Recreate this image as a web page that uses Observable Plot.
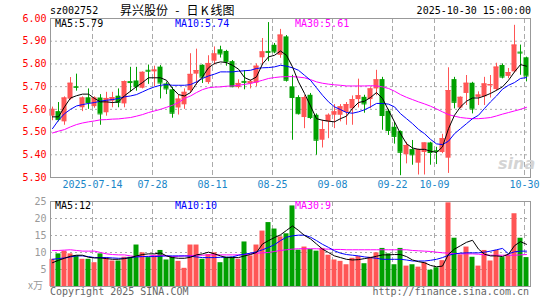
<!DOCTYPE html>
<html><head><meta charset="utf-8">
<script src="https://cdn.jsdelivr.net/npm/d3@7"></script>
<script src="https://cdn.jsdelivr.net/npm/@observablehq/plot@0.6"></script>
<style>
body{margin:0;background:#fff;}
#wrap{position:relative;width:545px;height:300px;overflow:hidden;background:#fff;}
.t{position:absolute;white-space:pre;line-height:10px;font-size:10px;font-family:"DejaVu Sans Mono",monospace;}
#main,#vol{position:absolute;left:0;}
#main{top:0}
#vol{top:190px}
.k{display:inline-block;width:12px;text-align:center;}
</style></head><body>
<div id="wrap">
<div id="main"></div><div id="vol"></div>
<div class="t" style="left:50px;top:6px;color:#000">sz002752</div>
<div class="t" style="left:120px;top:4px;font-family:'Noto Sans CJK SC',sans-serif;font-size:12px;line-height:12px;word-spacing:4.5px;color:#000">昇兴股份 - 日<span class="k">K</span>线图</div>
<div class="t" style="right:14px;top:6px;color:#000">2025-10-30 15:00:00</div>
<div class="t" id="lg1" style="left:55px;top:19px;color:#000"></div>
<div class="t" id="lg2" style="left:175px;top:19px;color:#0000ff"></div>
<div class="t" id="lg3" style="left:295px;top:19px;color:#ff00ff"></div>
<div class="t" id="vl1" style="left:55px;top:201px;color:#000"></div>
<div class="t" id="vl2" style="left:175px;top:201px;color:#0000ff"></div>
<div class="t" id="vl3" style="left:295px;top:201px;color:#ff00ff"></div>
<div class="t" style="left:28px;top:280px;color:#999;font-family:'Noto Sans CJK SC',sans-serif;">x万</div>
<div class="t" style="left:50px;top:287px;color:#666">Copyright 2025 SINA.COM</div>
<div class="t" style="right:16px;top:287px;color:#666">http://finance.sina.com.cn</div>
<div class="t" style="left:498px;top:156px;font-size:16px;line-height:16px;font-family:'DejaVu Sans',sans-serif;font-weight:bold;font-style:italic;color:#d4d4d4">sina</div>
</div>
<script>
const dates = ["07-03","07-04","07-07","07-08","07-09","07-10","07-11","07-14","07-15","07-16","07-17","07-18","07-21","07-22","07-23","07-24","07-25","07-28","07-29","07-30","07-31",
"08-01","08-04","08-05","08-06","08-07","08-08","08-11","08-12","08-13","08-14","08-15","08-18","08-19","08-20","08-21","08-22","08-25","08-26","08-27","08-28","08-29",
"09-01","09-02","09-03","09-04","09-05","09-08","09-09","09-10","09-11","09-12","09-15","09-16","09-17","09-18","09-19","09-22","09-23","09-24","09-25","09-26","09-29","09-30",
"10-09","10-10","10-13","10-14","10-15","10-16","10-17","10-20","10-21","10-22","10-23","10-24","10-27","10-28","10-29","10-30"];
const open = [5.57,5.59,5.545,5.645,5.70,5.607,5.651,5.612,5.65,5.585,5.636,5.658,5.624,5.722,5.725,5.693,5.772,5.765,5.786,5.712,5.686,
5.606,5.62,5.682,5.755,5.794,5.718,5.812,5.862,5.855,5.81,5.696,5.723,5.712,5.715,5.827,5.855,5.882,5.838,5.919,5.699,5.652,
5.564,5.662,5.574,5.464,5.545,5.574,5.574,5.586,5.602,5.643,5.653,5.643,5.69,5.731,5.592,5.521,5.502,5.40,5.423,5.363,5.41,5.452,
5.418,5.41,5.385,5.731,5.606,5.67,5.715,5.653,5.655,5.703,5.687,5.793,5.745,5.765,5.852,5.827];
const high = [5.61,5.63,5.655,5.74,5.755,5.655,5.69,5.655,5.665,5.675,5.675,5.69,5.725,5.785,5.785,5.765,5.795,5.79,5.793,5.72,5.697,
5.663,5.69,5.845,5.865,5.796,5.836,5.875,5.878,5.86,5.815,5.73,5.771,5.73,5.80,5.912,5.982,5.89,5.952,5.925,5.75,5.66,
5.66,5.67,5.58,5.552,5.58,5.621,5.621,5.63,5.659,5.733,5.662,5.695,5.772,5.741,5.60,5.543,5.505,5.455,5.463,5.425,5.452,5.455,
5.433,5.49,5.783,5.741,5.655,5.749,5.719,5.677,5.741,5.749,5.803,5.80,5.78,5.97,5.883,5.83];
const low = [5.55,5.545,5.53,5.64,5.68,5.59,5.60,5.605,5.53,5.57,5.607,5.607,5.607,5.675,5.68,5.69,5.71,5.70,5.646,5.665,5.561,
5.575,5.60,5.67,5.706,5.714,5.71,5.795,5.826,5.79,5.695,5.69,5.686,5.69,5.70,5.794,5.81,5.845,5.825,5.72,5.464,5.575,
5.515,5.555,5.398,5.43,5.471,5.515,5.545,5.53,5.53,5.606,5.583,5.603,5.66,5.508,5.485,5.447,5.308,5.36,5.354,5.311,5.311,5.354,
5.357,5.405,5.318,5.602,5.602,5.617,5.58,5.617,5.617,5.65,5.68,5.734,5.735,5.76,5.75,5.721];
const close = [5.60,5.555,5.65,5.715,5.697,5.65,5.63,5.65,5.58,5.648,5.652,5.631,5.722,5.718,5.70,5.763,5.768,5.773,5.716,5.69,5.583,
5.645,5.675,5.754,5.771,5.742,5.802,5.844,5.844,5.81,5.70,5.714,5.719,5.722,5.79,5.853,5.851,5.853,5.927,5.728,5.652,5.581,
5.652,5.564,5.464,5.511,5.574,5.589,5.611,5.621,5.643,5.66,5.624,5.69,5.73,5.573,5.507,5.481,5.411,5.441,5.40,5.423,5.452,5.41,
5.415,5.471,5.683,5.631,5.653,5.715,5.602,5.663,5.712,5.709,5.786,5.742,5.762,5.883,5.848,5.747];
const ma5 = [5.567,5.567,5.611,5.65,5.66,5.667,5.667,5.648,5.633,5.633,5.63,5.633,5.66,5.68,5.70,5.718,5.739,5.739,5.739,5.728,5.692,
5.665,5.659,5.674,5.714,5.743,5.783,5.802,5.809,5.806,5.794,5.777,5.74,5.728,5.743,5.80,5.831,5.838,5.857,5.838,5.787,5.721,
5.67,5.615,5.559,5.552,5.548,5.545,5.559,5.57,5.604,5.63,5.636,5.652,5.674,5.648,5.596,5.545,5.493,5.449,5.43,5.424,5.424,5.416,
5.41,5.435,5.515,5.574,5.611,5.636,5.65,5.65,5.659,5.67,5.684,5.699,5.728,5.765,5.797,5.79];
const ma10 = [5.515,5.552,5.581,5.60,5.615,5.621,5.626,5.63,5.636,5.64,5.643,5.648,5.655,5.659,5.665,5.677,5.689,5.699,5.706,5.709,5.706,
5.706,5.706,5.709,5.721,5.736,5.747,5.755,5.765,5.765,5.765,5.768,5.77,5.772,5.78,5.783,5.784,5.787,5.794,5.79,5.783,5.772,
5.75,5.728,5.695,5.662,5.633,5.611,5.599,5.586,5.583,5.589,5.598,5.611,5.626,5.626,5.623,5.611,5.581,5.559,5.537,5.512,5.493,5.468,
5.448,5.445,5.46,5.493,5.515,5.537,5.559,5.574,5.604,5.633,5.659,5.689,5.706,5.718,5.736,5.74];
const ma30 = [5.496,5.504,5.511,5.523,5.533,5.54,5.545,5.549,5.554,5.555,5.557,5.558,5.561,5.564,5.57,5.577,5.586,5.593,5.60,5.609,5.618,
5.63,5.648,5.659,5.674,5.687,5.695,5.698,5.699,5.702,5.703,5.706,5.71,5.714,5.721,5.728,5.736,5.74,5.743,5.744,5.744,5.742,
5.739,5.731,5.721,5.715,5.711,5.708,5.706,5.703,5.703,5.703,5.703,5.704,5.703,5.699,5.692,5.68,5.665,5.653,5.643,5.633,5.624,5.614,
5.602,5.589,5.577,5.57,5.564,5.561,5.559,5.559,5.561,5.564,5.571,5.579,5.586,5.593,5.60,5.609];
const volume = [8.0,9.6,10.4,9.6,9.0,8.0,8.0,7.0,9.6,8.5,7.5,7.5,8.6,8.6,12.2,9.9,8.5,9.0,10.6,7.8,8.7,
7.4,5.35,12.2,12.2,8.0,9.4,9.9,7.0,8.6,8.6,8.0,13.1,9.0,12.2,16.3,18.8,16.9,14.6,15.5,23.7,10.7,
11.6,10.9,10.4,11.2,9.2,7.8,7.4,6.4,8.3,8.8,6.7,8.6,9.9,11.2,9.6,6.4,11.2,6.0,6.4,5.7,7.0,4.8,
5.5,7.6,24.6,14.2,9.3,11.6,8.6,6.0,10.6,7.5,10.6,8.5,9.3,21.4,14.2,8.5];
const volMa5 = [7.0,7.7,8.3,8.9,9.2,9.2,8.6,8.4,8.4,8.2,8.0,8.0,8.2,8.5,9.0,9.4,9.6,9.6,9.9,9.0,8.5,
8.3,8.3,8.6,9.3,9.6,10.1,9.6,9.0,8.5,8.5,8.5,9.0,9.4,10.0,12.5,13.5,14.4,15.2,16.5,17.8,16.5,
15.0,14.0,12.5,11.0,10.0,9.0,8.5,8.0,7.8,7.9,8.2,8.5,8.9,9.3,9.3,9.4,9.4,8.8,7.8,7.3,7.0,6.2,
5.8,6.0,9.5,11.0,12.0,13.0,13.6,11.0,9.5,9.0,9.0,8.8,9.5,12.0,13.2,12.4];
const volMa10 = [8.0,8.2,8.4,8.7,9.0,9.0,8.8,8.5,8.5,8.5,8.4,8.3,8.3,8.5,8.7,8.8,8.8,8.8,8.9,9.0,9.0,
9.0,9.0,8.9,8.7,8.5,8.5,8.5,8.6,8.6,8.7,9.2,9.5,9.8,10.2,10.8,11.5,12.3,13.5,14.5,14.9,15.1,
15.1,14.5,13.5,12.4,11.5,10.5,9.8,9.4,9.2,9.0,8.7,8.5,8.3,8.0,8.0,8.0,8.0,7.8,7.5,7.5,7.5,7.7,
8.0,8.5,9.2,9.6,9.8,9.9,9.9,9.9,10.1,10.4,10.8,11.2,9.6,10.2,10.4,10.4];
const volMa30 = [10.6,10.6,10.7,10.8,10.6,10.4,10.4,10.4,10.0,9.6,9.4,9.3,9.3,9.0,8.8,8.8,8.9,9.2,9.2,9.0,8.8,
8.9,9.0,9.1,9.2,9.2,9.3,9.3,9.3,9.3,9.3,9.3,9.4,9.6,9.8,9.9,10.0,10.3,10.6,10.8,11.0,11.1,
11.1,11.1,11.1,11.0,11.0,10.9,10.9,10.8,10.8,10.8,10.8,10.8,10.8,10.8,10.8,10.8,10.8,10.8,10.6,10.5,10.4,10.3,
10.1,9.9,9.8,9.7,9.6,9.6,9.6,9.5,9.3,9.2,9.2,9.2,9.2,9.2,9.3,9.4];
const priceTicks = [5.30,5.40,5.50,5.60,5.70,5.80,5.90,6.00];
const priceGrid = [5.40,5.50,5.60,5.70,5.80,5.90];
const volTicks = [5,10,15,20,25];
const volGrid = [5,10,15,20];
const dateTickIdx = [7,17,27,37,47,57,64,79];
const dateTickLabels = ["2025-07-14","07-28","08-11","08-25","09-08","09-22","10-09","10-30"];
const maLegend = ["MA5:5.79","MA10:5.74","MA30:5.61"];
const volLegend = ["MA5:12","MA10:10","MA30:9"];

const RED = "#ff5555", GREEN = "#00a000", GRID = "#aaaaaa", FRAME = "#999999";
const MONO = "DejaVu Sans Mono, monospace";
const idx = d3.range(dates.length);
const col = i => close[i] >= open[i] ? RED : GREEN;
const xs = {type: "linear", domain: [1/12, dates.length + 1/12], axis: null};
const bodyX1 = i => i, bodyX2 = i => i + 5/6, mid = i => i + 5/12;

document.getElementById("lg1").textContent = maLegend[0];
document.getElementById("lg2").textContent = maLegend[1];
document.getElementById("lg3").textContent = maLegend[2];
document.getElementById("vl1").textContent = volLegend[0];
document.getElementById("vl2").textContent = volLegend[1];
document.getElementById("vl3").textContent = volLegend[2];

const main = Plot.plot({
  width: 545, height: 190, marginLeft: 50, marginRight: 15, marginTop: 18, marginBottom: 13,
  style: {background: "transparent", fontFamily: MONO, fontSize: "10px", overflow: "visible"},
  x: xs,
  y: {domain: [5.30, 6.00], axis: null},
  marks: [
    Plot.ruleY(priceGrid, {y: d => d, stroke: GRID, strokeDasharray: "2,3"}),
    Plot.ruleX(dateTickIdx, {x: d => d + 1/12, stroke: GRID, strokeDasharray: "5,3"}),
    Plot.ruleX(idx, {x: mid, y1: i => low[i], y2: i => high[i], stroke: col}),
    Plot.rect(idx, {x1: bodyX1, x2: bodyX2, y1: i => open[i], y2: i => close[i], fill: col}),
    Plot.ruleY(idx, {y: i => close[i], x1: bodyX1, x2: bodyX2, stroke: col}),
    Plot.line(idx, {x: mid, y: i => ma30[i], stroke: "#ff00ff", strokeWidth: 1}),
    Plot.line(idx, {x: mid, y: i => ma10[i], stroke: "#0000ff", strokeWidth: 1}),
    Plot.line(idx, {x: mid, y: i => ma5[i], stroke: "#000000", strokeWidth: 1}),
    Plot.frame({stroke: FRAME}),
    Plot.text(priceTicks, {y: d => d, frameAnchor: "left", dx: -4, textAnchor: "end", text: d => d.toFixed(2), fill: "#ff0000", fontSize: 10, fontFamily: MONO}),
    Plot.text(dateTickIdx, {x: d => d + 1/12, frameAnchor: "bottom", dy: 10, text: (d, k) => dateTickLabels[k], fill: "#1a86c8", fontSize: 10, fontFamily: MONO})
  ]
});
document.getElementById("main").appendChild(main);

const vol = Plot.plot({
  width: 545, height: 110, marginLeft: 50, marginRight: 15, marginTop: 11, marginBottom: 14,
  style: {background: "transparent", fontFamily: MONO, fontSize: "10px", overflow: "visible"},
  x: xs,
  y: {domain: [0, 25], axis: null},
  marks: [
    Plot.ruleY(volGrid, {y: d => d, stroke: GRID, strokeDasharray: "2,3"}),
    Plot.ruleX(dateTickIdx, {x: d => d + 1/12, stroke: GRID, strokeDasharray: "5,3"}),
    Plot.rect(idx, {x1: bodyX1, x2: bodyX2, y1: 0, y2: i => volume[i], fill: col}),
    Plot.line(idx, {x: mid, y: i => volMa30[i], stroke: "#ff00ff", strokeWidth: 1}),
    Plot.line(idx, {x: mid, y: i => volMa10[i], stroke: "#0000ff", strokeWidth: 1}),
    Plot.line(idx, {x: mid, y: i => volMa5[i], stroke: "#000000", strokeWidth: 1}),
    Plot.frame({stroke: FRAME}),
    Plot.text(volTicks, {y: d => d, frameAnchor: "left", dx: -4, textAnchor: "end", text: d => String(d), fill: "#999999", fontSize: 10, fontFamily: MONO})
  ]
});
document.getElementById("vol").appendChild(vol);
</script>
</body></html>
